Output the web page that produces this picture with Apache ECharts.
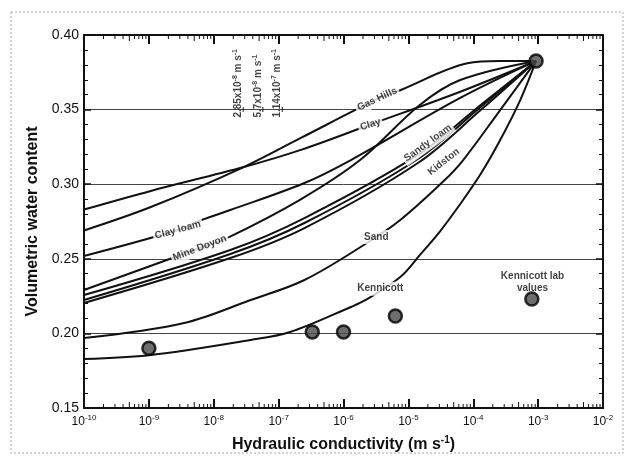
<!DOCTYPE html>
<html>
<head>
<meta charset="utf-8">
<script src="https://cdn.jsdelivr.net/npm/echarts@6/dist/echarts.min.js"></script>
<style>
  html, body { margin: 0; background: #fff; }
  #chart { width: 625px; height: 461px; }
</style>
</head>
<body>
<div id="chart"></div>
<script>
// curves: hydraulic conductivity K (m/s) vs volumetric water content
const clayK = [1e-10, 1.07e-9, 2.9e-8, 2.2e-7, 2.6e-6, 6.3e-5, 9.3e-4]
const clayTheta = [0.283, 0.2955, 0.3115, 0.323, 0.340, 0.362, 0.3826]

const gasHillsK = [1e-10, 1.07e-9, 2.9e-8, 2.2e-7, 3.3e-6, 7.5e-6, 8.1e-5, 2.6e-4, 9.3e-4]
const gasHillsTheta = [0.269, 0.2847, 0.3115, 0.331, 0.357, 0.363, 0.381, 0.3826, 0.3826]

const clayLoamK = [1e-10, 2.8e-9, 6.5e-9, 1.8e-8, 2.5e-7, 1.3e-6, 6.3e-5, 9.3e-4]
const clayLoamTheta = [0.2519, 0.2693, 0.276, 0.2827, 0.3008, 0.3162, 0.3578, 0.3826]

const mineDoyonK = [1e-10, 6.1e-9, 1.6e-8, 2.1e-7, 1.8e-6, 1.5e-5, 6.3e-5, 9.3e-4]
const mineDoyonTheta = [0.2291, 0.2572, 0.2639, 0.2894, 0.3162, 0.3531, 0.3698, 0.3826]

const sandyLoamK = [1e-10, 1.8e-8, 2.5e-7, 1.4e-5, 1.3e-4, 9.3e-4]
const sandyLoamTheta = [0.2257, 0.2559, 0.2773, 0.3196, 0.3531, 0.3826]

const sandyLoam2K = [1e-10, 1.8e-8, 2.5e-7, 1.4e-5, 1.3e-4, 9.3e-4]
const sandyLoam2Theta = [0.2224, 0.2532, 0.274, 0.3169, 0.3517, 0.3826]

const kidstonK = [1e-10, 1.8e-8, 2.5e-7, 1.4e-5, 1.3e-4, 9.3e-4]
const kidstonTheta = [0.2204, 0.2505, 0.2706, 0.3142, 0.3497, 0.3826]

const sandK = [1e-10, 3.5e-9, 3.7e-8, 2.5e-7, 2.3e-6, 7.5e-6, 3.5e-5, 7.0e-5, 2.6e-4, 9.3e-4]
const sandTheta = [0.1969, 0.207, 0.2224, 0.2358, 0.2606, 0.276, 0.3021, 0.3162, 0.3497, 0.3826]

const kennicottK = [1e-10, 1.07e-9, 3.7e-8, 1.5e-7, 1.3e-6, 2.2e-6, 7.5e-6, 1.5e-5, 3.1e-5, 6.3e-5, 1.3e-4, 2.6e-4, 5.3e-4, 9.3e-4]
const kennicottTheta = [0.1828, 0.1855, 0.1956, 0.2009, 0.2177, 0.2224, 0.2378, 0.2525, 0.2686, 0.2867, 0.3068, 0.3296, 0.3564, 0.3826]

// Kennicott lab values (points)
const labK = [1e-9, 3.3e-7, 1e-6, 6.3e-6, 8e-4]
const labTheta = [0.190, 0.201, 0.201, 0.2117, 0.2231]
const saturatedK = [9.3e-4]
const saturatedTheta = [0.3826]

// reference conductivities marked on the 0.35 line
const refK = [2.85e-8, 5.7e-8, 1.14e-7]
const refText = ['2.85x10', '5.7x10', '1.14x10']
const refExp = ['-8', '-8', '-7']
const refTheta = 0.35

// curve label names and where they sit
const labelNames = ['Gas Hills', 'Clay', 'Clay loam', 'Mine Doyon', 'Sandy loam', 'Kidston', 'Sand', 'Kennicott', 'Kennicott lab\nvalues']
const labelK = [3.3e-6, 2.6e-6, 2.8e-9, 6.1e-9, 2.0e-5, 3.5e-5, 3.2e-6, 3.7e-6, 8.2e-4]
const labelTheta = [0.357, 0.340, 0.2693, 0.2572, 0.3276, 0.315, 0.2646, 0.230, 0.2345]
const labelRotate = [25, 17, 15, 21, 36, 38, 0, 0, 0]

const FONT = 'Liberation Sans'
const zip = (xs, ys) => xs.map((x, i) => [x, ys[i]])

const curves = [
  ['Clay', clayK, clayTheta],
  ['Gas Hills', gasHillsK, gasHillsTheta],
  ['Clay loam', clayLoamK, clayLoamTheta],
  ['Mine Doyon', mineDoyonK, mineDoyonTheta],
  ['Sandy loam', sandyLoamK, sandyLoamTheta],
  ['Sandy loam 2', sandyLoam2K, sandyLoam2Theta],
  ['Kidston', kidstonK, kidstonTheta],
  ['Sand', sandK, sandTheta],
  ['Kennicott', kennicottK, kennicottTheta]
]

// log minor ticks 2..9 in each decade
const minorTicks = []
for (let e = -10; e < -2; e++) {
  for (let m = 2; m <= 9; m++) minorTicks.push([m * Math.pow(10, e), m])
}

const supRich = {
  b: { fontSize: 12, fontFamily: FONT, color: '#111' },
  s: { fontSize: 8, fontFamily: FONT, color: '#111', padding: [0, 0, 8, 0] }
}

const chart = echarts.init(document.getElementById('chart'))

const lineSeries = curves.map(([name, k, t]) => ({
  name: name,
  type: 'line',
  data: zip(k, t),
  smooth: 0.35,
  symbol: 'none',
  lineStyle: { color: '#111', width: 2 },
  z: 2,
  silent: true,
  animation: false
}))

chart.setOption({
  animation: false,
  backgroundColor: '#fff',
  graphic: [{
    type: 'rect',
    shape: { x: 11, y: 12, width: 612, height: 441 },
    style: { fill: 'none', stroke: '#aaa', lineWidth: 1, lineDash: [2, 2] }
  }],
  grid: { left: 84, right: 22, top: 35, bottom: 53 },
  xAxis: [{
    type: 'log',
    logBase: 10,
    min: 1e-10,
    max: 1e-2,
    splitNumber: 8,
    axisLine: { lineStyle: { color: '#111', width: 2 } },
    axisTick: { inside: true, length: 9, lineStyle: { color: '#111', width: 2 } },
    splitLine: { show: false },
    axisLabel: {
      margin: 6,
      formatter: v => '{b|10}{s|' + Math.round(Math.log10(v)) + '}',
      rich: supRich
    },
    name: '{t|Hydraulic conductivity (m s}{s|-1}{t|)}',
    nameLocation: 'middle',
    nameGap: 27,
    nameTextStyle: {
      rich: {
        t: { fontSize: 16, fontWeight: 'bold', fontFamily: FONT, color: '#111' },
        s: { fontSize: 10, fontWeight: 'bold', fontFamily: FONT, color: '#111', padding: [0, 0, 10, 0] }
      }
    }
  }, {
    type: 'log',
    logBase: 10,
    min: 1e-10,
    max: 1e-2,
    splitNumber: 8,
    position: 'top',
    axisLine: { lineStyle: { color: '#111', width: 2 } },
    axisTick: { inside: true, length: 9, lineStyle: { color: '#111', width: 2 } },
    axisLabel: { show: false },
    splitLine: { show: false }
  }],
  yAxis: [{
    type: 'value',
    min: 0.15,
    max: 0.40,
    interval: 0.05,
    axisLine: { show: true, lineStyle: { color: '#111', width: 2 } },
    axisTick: { show: true, inside: true, length: 7, lineStyle: { color: '#111', width: 1.5 } },
    minorTick: { show: true, splitNumber: 5, length: 4, lineStyle: { color: '#111', width: 1 } },
    splitLine: { show: true, lineStyle: { color: '#444', width: 1 } },
    axisLabel: {
      margin: 5,
      fontSize: 14,
      fontFamily: FONT,
      color: '#111',
      formatter: v => v.toFixed(2)
    },
    name: 'Volumetric water content',
    nameLocation: 'middle',
    nameGap: 29,
    nameTextStyle: { fontSize: 16, fontWeight: 'bold', fontFamily: FONT, color: '#111' }
  }, {
    type: 'value',
    min: 0.15,
    max: 0.40,
    interval: 0.05,
    position: 'right',
    axisLine: { show: true, lineStyle: { color: '#111', width: 2 } },
    axisTick: { show: true, inside: true, length: 7, lineStyle: { color: '#111', width: 1.5 } },
    minorTick: { show: true, splitNumber: 5, length: 4, lineStyle: { color: '#111', width: 1 } },
    splitLine: { show: false },
    axisLabel: { show: false }
  }],
  series: [
    {
      type: 'custom',
      silent: true,
      clip: false,
      data: minorTicks,
      renderItem: (params, api) => {
        const len = api.value(1) === 5 ? 6 : 4
        const b = api.coord([api.value(0), 0.15])
        const t = api.coord([api.value(0), 0.40])
        return {
          type: 'group',
          children: [
            { type: 'line', shape: { x1: b[0], y1: b[1], x2: b[0], y2: b[1] - len }, style: { stroke: '#111', lineWidth: 1 } },
            { type: 'line', shape: { x1: t[0], y1: t[1], x2: t[0], y2: t[1] + len }, style: { stroke: '#111', lineWidth: 1 } }
          ]
        }
      }
    },
    ...lineSeries,
    {
      name: 'Kennicott lab values',
      type: 'scatter',
      data: zip(labK, labTheta).concat(zip(saturatedK, saturatedTheta)),
      symbol: 'circle',
      symbolSize: 13,
      itemStyle: { color: '#4a4a4a', borderColor: '#000', borderWidth: 2.5 },
      z: 6,
      silent: true
    },
    {
      name: 'reference K',
      type: 'scatter',
      symbol: 'rect',
      symbolSize: [1.2, 5],
      itemStyle: { color: '#111' },
      z: 5,
      silent: true,
      data: refK.map((k, i) => ({
        value: [k, refTheta],
        label: {
          show: true,
          rotate: 90,
          position: 'inside',
          align: 'left',
          verticalAlign: 'middle',
          offset: [-8, -5],
          formatter: '{b|' + refText[i] + '}{s|' + refExp[i] + '}{b| m s}{s|-1}',
          rich: {
            b: { fontSize: 10, fontWeight: 'bold', fontFamily: FONT, color: '#111' },
            s: { fontSize: 7, fontWeight: 'bold', fontFamily: FONT, color: '#111', padding: [0, 0, 6, 0] }
          }
        }
      }))
    },
    {
      name: 'labels',
      type: 'scatter',
      symbolSize: 1,
      itemStyle: { color: 'transparent' },
      z: 8,
      silent: true,
      data: labelNames.map((n, i) => ({
        value: [labelK[i], labelTheta[i]],
        label: {
          show: true,
          position: 'inside',
          rotate: labelRotate[i],
          formatter: n,
          fontSize: 10,
          fontWeight: 'bold',
          fontFamily: FONT,
          color: '#111',
          lineHeight: 12,
          backgroundColor: i < 8 ? '#fff' : 'transparent',
          padding: [1, 2]
        }
      }))
    }
  ]
})
</script>
</body>
</html>
